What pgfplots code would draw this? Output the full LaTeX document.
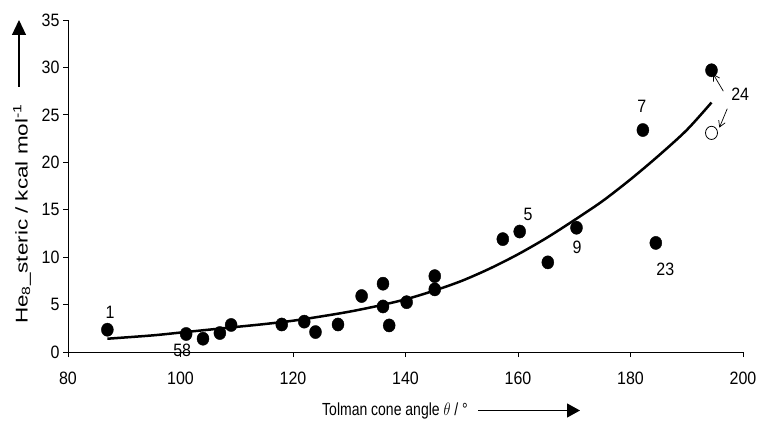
\documentclass[border=0pt]{standalone}
\usepackage{fontspec}
\setmainfont{Liberation Sans}
\usepackage{graphicx}
\usepackage{pgfplots}
\pgfplotsset{compat=1.18}
\usetikzlibrary{arrows.meta}
\newcommand\vs[2]{\scalebox{1}[#1]{#2}}
\begin{document}
\begin{tikzpicture}[x=1pt,y=1pt]
\useasboundingbox (0,0) rectangle (758,421);
\begin{axis}[
  at={(68pt,69pt)}, anchor=south west,
  width=675pt, height=332pt, scale only axis,
  xmin=80, xmax=200, ymin=0, ymax=35,
  axis lines*=left,
  axis line style={line width=0.9pt},
  xtick={80,100,...,200}, ytick={0,5,...,35},
  tick align=outside, major tick length=5pt,
  tick style={black, line width=0.9pt},
  tick label style={font=\fontsize{16}{16}\selectfont},
  /pgf/number format/assume math mode=true,
  xticklabel={\vs{1.12}{\pgfmathprintnumber{\tick}}},
  yticklabel={\vs{1.12}{\pgfmathprintnumber{\tick}}},
  xticklabel style={yshift=-11pt},
  clip=false,
]
\addplot[black, line width=2.5pt, smooth] coordinates {
(87,1.40) (95,1.75) (100,2.05) (105,2.35) (110,2.65) (115,2.95) (120,3.30)
(125,3.75) (130,4.25) (135,4.85) (140,5.55) (145,6.45) (150,7.5) (155,8.8)
(160,10.3) (165,12.0) (170,13.9) (175,15.9) (180,18.2) (185,20.7) (190,23.4) (194.4,26.3)
};
\addplot[only marks, mark=*, mark size=6pt, black, mark options={yscale=1.1}] coordinates {
(87,2.35) (101,1.9) (104,1.4) (107,2.0) (109,2.85) (118,2.9) (122,3.2) (124,2.1)
(128,2.9) (132.2,5.9) (136,7.2) (136,4.8) (137.1,2.8) (140.2,5.25) (145.2,8.0)
(145.2,6.6) (157.3,11.9) (160.3,12.7) (165.3,9.45) (170.4,13.1) (184.5,11.5)
(182.2,23.4) (194.4,29.7)
};
\addplot[only marks, mark=*, mark size=6pt, mark options={fill=white, draw=black, line width=0.8pt, yscale=1.1}] coordinates {
(194.4,23.1)
};
\begin{scope}[font=\fontsize{16}{16}\selectfont]
\node at (axis cs:87.5,4.15) {\vs{1.12}{1}};
\node at (axis cs:100.3,0.2) {\vs{1.12}{58}};
\node at (axis cs:161.8,14.5) {\vs{1.12}{5}};
\node at (axis cs:170.5,11.0) {\vs{1.12}{9}};
\node at (axis cs:182.0,25.9) {\vs{1.12}{7}};
\node at (axis cs:186.2,8.7) {\vs{1.12}{23}};
\node at (axis cs:199.5,27.2) {\vs{1.12}{24}};
\end{scope}
\draw[-{Straight Barb[length=6pt,width=7pt]}, line width=0.7pt] (axis cs:196.5,27.5) -- (axis cs:194.7,29.3);
\draw[-{Straight Barb[length=6pt,width=7pt]}, line width=0.7pt] (axis cs:197.2,25.65) -- (axis cs:195.8,23.65);
\end{axis}
\node[rotate=90, font=\fontsize{17}{17}\selectfont] at (22,207) {\scalebox{1.32}[1]{He\textsubscript{8}\_steric / kcal mol\textsuperscript{-1}}};
\draw[line width=1.2pt, -{Triangle[length=15pt,width=14pt]}] (19,334) -- (19,401);
\node[anchor=base west, font=\fontsize{14}{14}\selectfont, inner sep=0pt] at (322,6) {\vs{1.25}{Tolman cone angle $\theta$ / °}};
\draw[line width=1.2pt, -{Triangle[length=13pt,width=14pt]}] (478,10.5) -- (580,10.5);
\end{tikzpicture}
\end{document}
